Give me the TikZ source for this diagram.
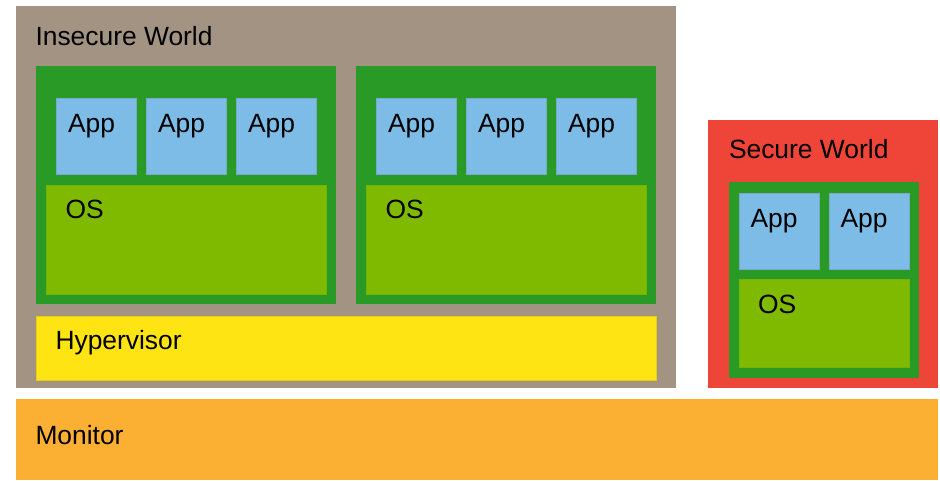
\documentclass[tikz,border=0pt]{standalone}
\usepackage{fontspec}
\setmainfont{Liberation Sans}
\definecolor{worldgrey}{HTML}{A39383}
\definecolor{securered}{HTML}{EF4438}
\definecolor{vmgreen}{HTML}{2A9A27}
\definecolor{osgreen}{HTML}{7FBA00}
\definecolor{appblue}{HTML}{7CBCE7}
\definecolor{hypyellow}{HTML}{FFE414}
\definecolor{monorange}{HTML}{FBB034}
\tikzset{
  layer/.style={rectangle, inner sep=0pt, outer sep=0pt, anchor=north west},
  appbox/.style={layer, fill=appblue, draw=appblue!85!black!90, line width=0.6pt,
    minimum width=80pt, minimum height=76pt},
  osbox/.style={layer, fill=osgreen, draw=osgreen!85!vmgreen, line width=0.6pt},
  vmbox/.style={layer, fill=vmgreen, minimum width=300pt, minimum height=238pt},
  lbl/.style={anchor=base west, inner sep=0pt, outer sep=0pt,
    font=\fontsize{26.4}{30}\selectfont, text=black},
}
\begin{document}
\begin{tikzpicture}[x=1pt, y=-1pt]
  \useasboundingbox (0,0) rectangle (940,480);
  \fill[white] (0,0) rectangle (940,480);

  % worlds and firmware layers
  \node[layer, fill=worldgrey, minimum width=660pt, minimum height=382pt] (insecure) at (16,6) {};
  \node[layer, fill=securered, minimum width=230pt, minimum height=268pt] (secure) at (708,120) {};
  \node[layer, fill=monorange, minimum width=922pt, minimum height=81pt] (monitor) at (16,399) {};
  \node[layer, fill=hypyellow, draw=hypyellow!90!black, line width=0.5pt,
        minimum width=620pt, minimum height=64pt] (hyp) at (36,316) {};

  % guest VM 1
  \node[vmbox] (vm1) at (36,66) {};
  \node[appbox] (vm1a1) at (56,98) {};
  \node[appbox] (vm1a2) at (146,98) {};
  \node[appbox] (vm1a3) at (236,98) {};
  \node[osbox, minimum width=280pt, minimum height=109pt] (vm1os) at (46,185) {};

  % guest VM 2
  \node[vmbox] (vm2) at (356,66) {};
  \node[appbox] (vm2a1) at (376,98) {};
  \node[appbox] (vm2a2) at (466,98) {};
  \node[appbox] (vm2a3) at (556,98) {};
  \node[osbox, minimum width=280pt, minimum height=109pt] (vm2os) at (366,185) {};

  % trusted OS
  \node[vmbox, minimum width=190pt, minimum height=196pt] (svm) at (729,182) {};
  \node[appbox] (sa1) at (739,193) {};
  \node[appbox] (sa2) at (829,193) {};
  \node[osbox, minimum width=170pt, minimum height=88pt] (sos) at (739,279) {};

  % labels
  \node[lbl] (tinsecure) at (35.5,45) {Insecure World};
  \node[lbl] (tsecure) at (729,158) {Secure World};
  \node[lbl] (thyp) at (55.5,349) {Hypervisor};
  \node[lbl] (tmon) at (35.5,444) {Monitor};

  \node[lbl] (t11) at (68,132) {App};
  \node[lbl] (t12) at (158,132) {App};
  \node[lbl] (t13) at (248,132) {App};
  \node[lbl] (t1os) at (65.5,218.5) {OS};

  \node[lbl] (t21) at (388,132) {App};
  \node[lbl] (t22) at (478,132) {App};
  \node[lbl] (t23) at (568,132) {App};
  \node[lbl] (t2os) at (385.5,218.5) {OS};

  \node[lbl] (ts1) at (750.5,227) {App};
  \node[lbl] (ts2) at (840.5,227) {App};
  \node[lbl] (tsos) at (758,313.5) {OS};
\end{tikzpicture}
\end{document}
